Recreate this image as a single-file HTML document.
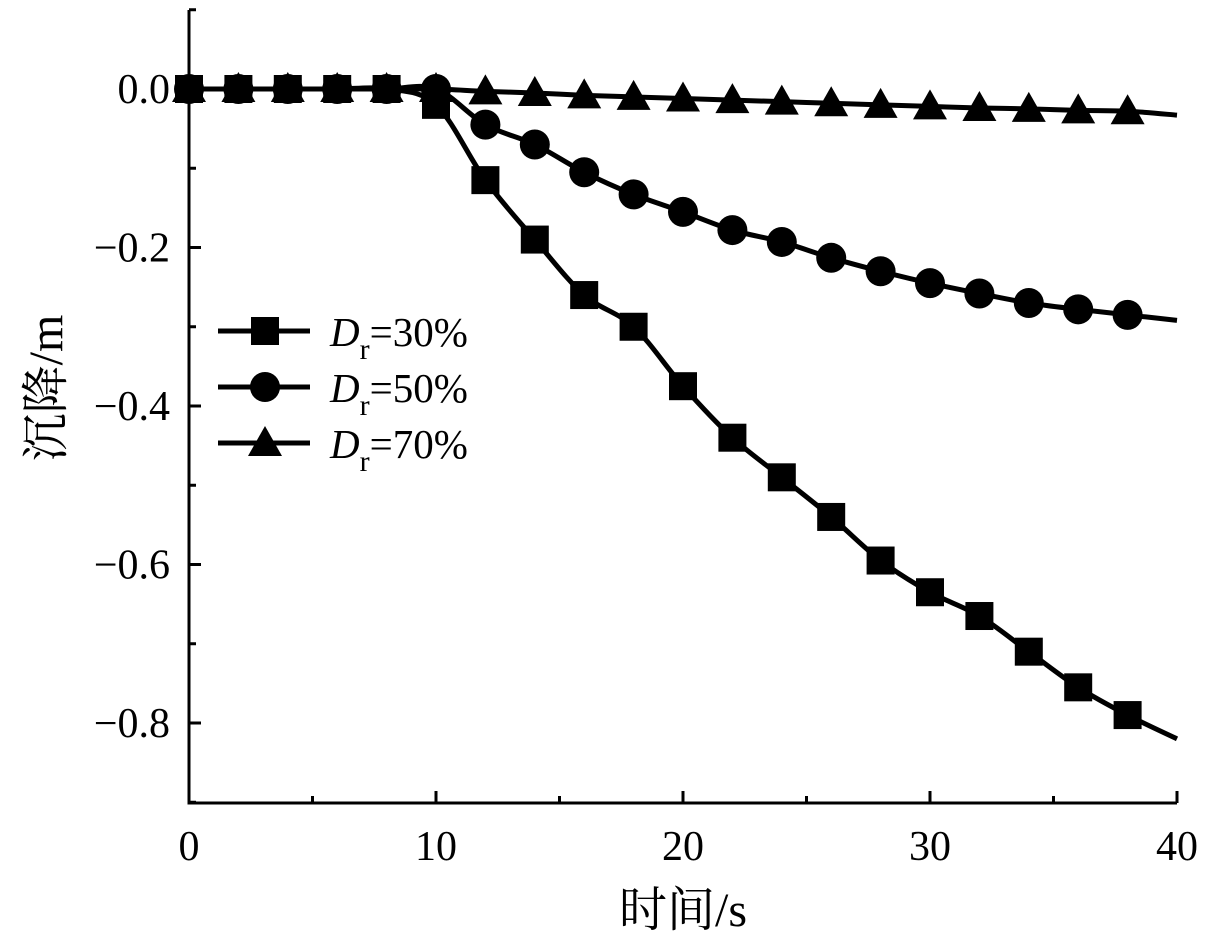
<!DOCTYPE html>
<html><head><meta charset="utf-8"><style>
body{margin:0;background:#fff;}
svg{display:block;font-family:"Liberation Serif","Noto Serif CJK SC",serif;}
</style></head><body>
<svg id="chart" width="1220" height="940" viewBox="0 0 1220 940" xmlns="http://www.w3.org/2000/svg">
<g id="axes"></g>
<g id="series"></g>
<g id="legend"></g>
</svg>
<script>
const times = [0,2,4,6,8,10,12,14,16,18,20,22,24,26,28,30,32,34,36,38,40];
const dr30 = [0,0,0,0,0,-0.02,-0.115,-0.19,-0.26,-0.30,-0.375,-0.44,-0.49,-0.54,-0.595,-0.635,-0.665,-0.71,-0.755,-0.79,-0.82];
const dr50 = [0,0,0,0,0,0,-0.045,-0.07,-0.105,-0.133,-0.155,-0.178,-0.193,-0.213,-0.23,-0.245,-0.258,-0.27,-0.278,-0.285,-0.292];
const dr70 = [0,0,0,0,0,0,-0.003,-0.005,-0.008,-0.01,-0.012,-0.014,-0.016,-0.018,-0.02,-0.022,-0.024,-0.025,-0.027,-0.028,-0.033];
const seriesNames = ["30%","50%","70%"];
const xTicks = [0,10,20,30,40];
const yTicks = [0.0,-0.2,-0.4,-0.6,-0.8];
const yTickLabels = ["0.0","\u22120.2","\u22120.4","\u22120.6","\u22120.8"];

const NS="http://www.w3.org/2000/svg";
const X0=189,X1=1177,Y0=10,Y1=803;
const xs=v=>X0+(v-0)/(40-0)*(X1-X0);
const ys=v=>89+(0-v)/0.2*158.5;
function mk(tag,attrs,parent){const e=document.createElementNS(NS,tag);for(const k in attrs)e.setAttribute(k,attrs[k]);parent.appendChild(e);return e;}
const axes=document.getElementById('axes'),ser=document.getElementById('series'),leg=document.getElementById('legend');

let a=mk('path',{d:`M${X0},${Y0}V${Y1}H${X1}`,fill:'none',stroke:'#000','stroke-width':3},axes);

for(let v=0;v<=40;v+=5){const major=v%10===0;const t=mk('line',{x1:xs(v),x2:xs(v),y1:Y1,y2:Y1-(major?12:7),stroke:'#000','stroke-width':3},axes);
}
for(let i=-9;i<=1;i++){const v=i/10;const major=i%2===0;const t=mk('line',{x1:X0,x2:X0+(major?12:7),y1:ys(v),y2:ys(v),stroke:'#000','stroke-width':3},axes);
}
xTicks.forEach(v=>{const t=mk('text',{x:xs(v),y:860,'text-anchor':'middle','font-size':42},axes);t.textContent=v;
});
yTicks.forEach((v,i)=>{const t=mk('text',{x:170,y:ys(v)+14,'text-anchor':'end','font-size':42},axes);t.textContent=yTickLabels[i];
});
let xt=mk('text',{x:683,y:926,'text-anchor':'middle','font-size':48},axes);xt.textContent='时间/s';

let yt=mk('text',{x:0,y:0,'text-anchor':'middle','font-size':48,transform:'translate(62,388) rotate(-90)'},axes);yt.textContent='沉降/m';


function smooth(pts){let d=`M${pts[0][0]},${pts[0][1]}`;for(let i=0;i<pts.length-1;i++){const p0=pts[i-1]||pts[i],p1=pts[i],p2=pts[i+1],p3=pts[i+2]||p2;
d+=`C${p1[0]+(p2[0]-p0[0])/6},${p1[1]+(p2[1]-p0[1])/6} ${p2[0]-(p3[0]-p1[0])/6},${p2[1]-(p3[1]-p1[1])/6} ${p2[0]},${p2[1]}`;}return d;}
function marker(kind,cx,cy,parent){
 if(kind===0)return mk('rect',{x:cx-14,y:cy-14,width:28,height:28,fill:'#000'},parent);
 if(kind===1)return mk('circle',{cx,cy,r:15,fill:'#000'},parent);
 return mk('path',{d:`M${cx},${cy-17}L${cx+17},${cy+13}L${cx-17},${cy+13}Z`,fill:'#000'},parent);
}
[dr30,dr50,dr70].forEach((vals,k)=>{
 const g=mk('g',{},ser);
 const pts=times.map((t,i)=>[xs(t),ys(vals[i])]);
 const p=mk('path',{d:smooth(pts),fill:'none',stroke:'#000','stroke-width':5},g);
 
 times.forEach((t,i)=>{if(t>=40)return;const m=marker(k,xs(t),ys(vals[i]),g);
 });
 const ly=331+56*k;
 const lg=mk('g',{},leg);
 mk('line',{x1:218,x2:310,y1:ly,y2:ly,stroke:'#000','stroke-width':5},lg);
 marker(k,265,ly,lg);
 const tx=mk('text',{x:330,y:ly+15,'font-size':41},lg);
 tx.innerHTML=`<tspan font-style="italic">D</tspan><tspan font-size="30" dy="13">r</tspan><tspan dy="-13">=${seriesNames[k]}</tspan>`;
});
</script>
</body></html>
